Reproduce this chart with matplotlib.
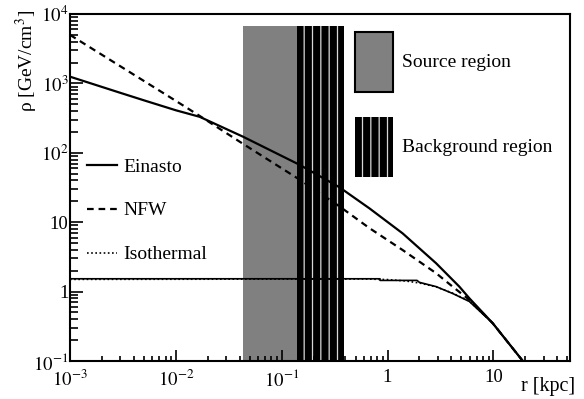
import matplotlib.pyplot as plt
from matplotlib.patches import Patch, Rectangle
from matplotlib.lines import Line2D

# Dark matter density profiles (r in kpc, rho in GeV/cm^3)
r_ein = [0.001, 0.003, 0.005, 0.01, 0.0168, 0.043, 0.148, 0.35, 0.676, 1.39, 2.88, 4.77, 5.94, 9.87, 19.5]
rho_ein = [1250, 730, 570, 410, 330, 171, 67, 32, 15.8, 6.9, 2.56, 1.18, 0.80, 0.35, 0.095]

r_nfw = [0.001, 0.003, 0.01, 0.0168, 0.043, 0.148, 0.35, 0.676, 1.39, 2.88, 4.12, 5.94, 9.87, 19.5]
rho_nfw = [5000, 1760, 560, 340, 135, 41, 17, 8.2, 3.97, 1.84, 1.18, 0.76, 0.35, 0.095]

r_iso = [0.001, 0.6, 1.0, 1.5, 2.0, 2.88, 4.12, 5.94, 9.87, 19.5]
rho_iso = [1.50, 1.52, 1.49, 1.42, 1.33, 1.17, 0.95, 0.73, 0.35, 0.095]

r_iso_bin = [0.001, 0.85, 0.85, 1.9, 2.0, 2.88, 4.12, 5.94, 9.87, 19.5]
rho_iso_bin = [1.53, 1.53, 1.45, 1.45, 1.36, 1.18, 0.94, 0.72, 0.35, 0.095]

# ON / OFF regions in radius
src_lo, src_hi = 0.043, 0.141
bkg_lo, bkg_hi = 0.141, 0.385
region_top = 6700

profile_names = ['Einasto', 'NFW', 'Isothermal']
region_names = ['Source region', 'Background region']

x_ticks = [1e-3, 1e-2, 1e-1, 1, 10]
x_labels = ['$10^{-3}$', '$10^{-2}$', '$10^{-1}$', '1', '10']
y_ticks = [1e-1, 1, 10, 1e2, 1e3, 1e4]
y_labels = ['$10^{-1}$', '1', '10', '$10^{2}$', '$10^{3}$', '$10^{4}$']

plt.rcParams['font.family'] = ['Liberation Serif', 'DejaVu Serif']
plt.rcParams['mathtext.fontset'] = 'stix'
plt.rcParams['hatch.linewidth'] = 0.9

fig = plt.figure(figsize=(5.84, 3.99), dpi=100)
ax = fig.add_axes([70 / 584, 38 / 399, 500 / 584, 347 / 399])
ax.set_xscale('log')
ax.set_yscale('log')
ax.set_xlim(1e-3, 53)
ax.set_ylim(0.1, 1e4)

gray = '#808080'
hatch_col = '#d8d8d8'
ax.add_patch(Rectangle((src_lo, 0.1), src_hi - src_lo, region_top - 0.1,
                       facecolor=gray, edgecolor='none', lw=0, zorder=1))
ax.add_patch(Rectangle((bkg_lo, 0.1), bkg_hi - bkg_lo, region_top - 0.1,
                       facecolor='black', edgecolor=hatch_col, hatch='||', lw=0, zorder=1))

dash = (0, (3, 2.2))
dots = (0, (1, 1.5))
ax.plot(r_ein, rho_ein, color='black', lw=1.6, zorder=3)
ax.plot(r_nfw, rho_nfw, color='black', lw=1.6, ls=dash, zorder=3)
ax.plot(r_iso_bin, rho_iso_bin, color='black', lw=1.2, zorder=3)
ax.plot(r_iso, rho_iso, color='black', lw=1.2, ls=dots, zorder=3)

ax.set_xticks(x_ticks)
ax.set_xticklabels(x_labels)
ax.set_yticks(y_ticks)
ax.set_yticklabels(y_labels)
ax.tick_params(which='both', direction='in', top=False, right=False, width=1.2, labelsize=13.5)
ax.tick_params(axis='y', which='major', length=9, pad=1)
ax.tick_params(axis='y', which='minor', length=5.5)
ax.tick_params(axis='x', which='major', length=8, pad=6)
ax.tick_params(axis='x', which='minor', length=3.6)
ax.yaxis.set_minor_formatter(plt.NullFormatter())
ax.xaxis.set_minor_formatter(plt.NullFormatter())
for s in ax.spines.values():
    s.set_linewidth(1.5)

prof_handles = [Line2D([], [], color='black', lw=1.6),
                Line2D([], [], color='black', lw=1.6, ls=dash),
                Line2D([], [], color='black', lw=1.2, ls=dots)]
leg1 = ax.legend(prof_handles, profile_names, loc='upper left', bbox_to_anchor=(0.034, 0.585),
                 frameon=False, fontsize=14, handlelength=1.55, handletextpad=0.3,
                 labelspacing=1.35, borderpad=0, borderaxespad=0)
ax.add_artist(leg1)

reg_handles = [Patch(facecolor=gray, edgecolor='black', lw=1.5),
               Patch(facecolor='black', edgecolor=hatch_col, hatch='||', lw=0)]
ax.legend(reg_handles, region_names, loc='upper left', bbox_to_anchor=(0.57, 0.948),
          frameon=False, fontsize=14, handlelength=1.95, handleheight=4.38,
          handletextpad=0.45, labelspacing=1.29, borderpad=0, borderaxespad=0)

fig.text(27 / 584, 1 - 10 / 399, 'ρ [GeV/cm$^{3}$]', rotation=90, ha='center', va='top', fontsize=14)
fig.text(575 / 584, 1 - 387 / 399, 'r [kpc]', ha='right', va='center', fontsize=14.5)

fig.savefig('out.png', dpi=100)
